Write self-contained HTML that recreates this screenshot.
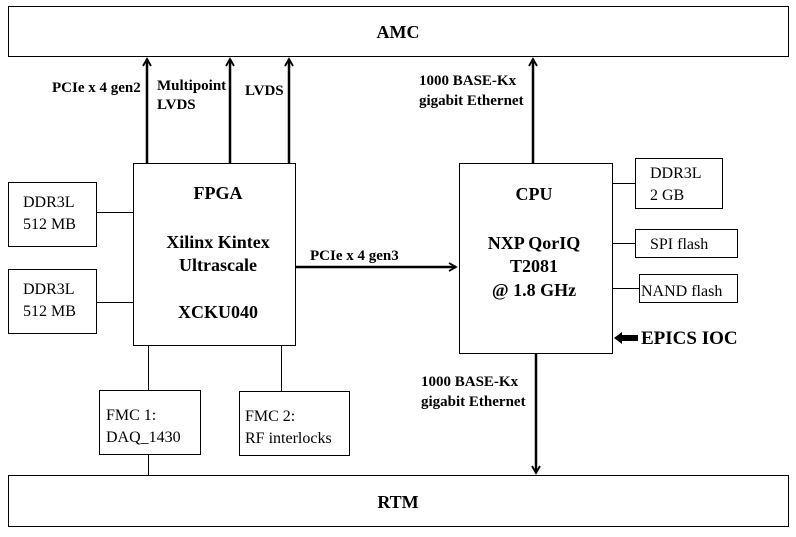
<!DOCTYPE html>
<html><head><style>body{margin:0;background:#fff}</style></head><body>
<svg width="796" height="532" xmlns="http://www.w3.org/2000/svg" font-family="Liberation Serif, serif">
<defs><marker id="a" markerWidth="10" markerHeight="10" refX="8" refY="5" orient="auto" markerUnits="userSpaceOnUse"><path d="M1,1 L8,5 L1,9" fill="none" stroke="#000" stroke-width="1.8"/></marker></defs>
<g fill="none" stroke="#000" stroke-width="1">
<rect x="8.5" y="6.5" width="780" height="50"/>
<rect x="8.5" y="475.5" width="780" height="51"/>
<rect x="133.5" y="163.5" width="162" height="182"/>
<rect x="459.5" y="163.5" width="153" height="190"/>
<rect x="8.5" y="182.5" width="88" height="64"/>
<rect x="8.5" y="269.5" width="88" height="64"/>
<rect x="635.5" y="158.5" width="87" height="50"/>
<rect x="635.5" y="229.5" width="102" height="28"/>
<rect x="639.5" y="274.5" width="98" height="28"/>
<rect x="99.5" y="390.5" width="101" height="64"/>
<rect x="239.5" y="391.5" width="110" height="64"/>
<path d="M96.5 212.5H133.5M96.5 302.5H133.5M612.5 183.5H635.5M612.5 243.5H635.5M612.5 288.5H639.5M148.5 345.5V390.5M148.5 454.5V475.5M281.5 345.5V391.5"/>
</g>
<g stroke="#000" stroke-width="2.5" fill="none" marker-end="url(#a)">
<path d="M147 163V59"/><path d="M230 163V59"/><path d="M289 163V59"/>
<path d="M533 163V59"/><path d="M536 353V473"/><path d="M295 267H456"/>
</g>
<path d="M614 338L622 332V335H638V341H622V344Z" fill="#000"/>
<g font-weight="bold" font-size="18" text-anchor="middle">
<text x="398" y="38">AMC</text><text x="398" y="508">RTM</text>
<text x="218" y="199">FPGA</text>
<text x="218" y="248">Xilinx  Kintex</text>
<text x="218" y="271">Ultrascale</text>
<text x="218" y="318">XCKU040</text>
<text x="534" y="200">CPU</text>
<text x="534" y="249">NXP QorIQ</text>
<text x="534" y="272">T2081</text>
<text x="534" y="296">@ 1.8 GHz</text>
<text x="641" y="344" text-anchor="start" font-size="19">EPICS IOC</text>
</g>
<g font-weight="bold" font-size="15">
<text x="52" y="92">PCIe x 4 gen2</text>
<text x="157" y="90">Multipoint</text><text x="157" y="109">LVDS</text>
<text x="245" y="95">LVDS</text>
<text x="419" y="85">1000 BASE-Kx</text><text x="419" y="105">gigabit Ethernet</text>
<text x="310" y="260">PCIe x 4 gen3</text>
<text x="421" y="386">1000 BASE-Kx</text><text x="421" y="406">gigabit Ethernet</text>
</g>
<g font-size="16">
<text x="23" y="207">DDR3L</text><text x="23" y="229">512 MB</text>
<text x="23" y="294">DDR3L</text><text x="23" y="316">512 MB</text>
<text x="650" y="178">DDR3L</text><text x="650" y="200">2 GB</text>
<text x="650" y="249">SPI flash</text>
<text x="641" y="296">NAND flash</text>
<text x="106" y="420">FMC 1:</text><text x="106" y="442">DAQ_1430</text>
<text x="245" y="421">FMC 2:</text><text x="245" y="443">RF interlocks</text>
</g>
</svg>
</body></html>
